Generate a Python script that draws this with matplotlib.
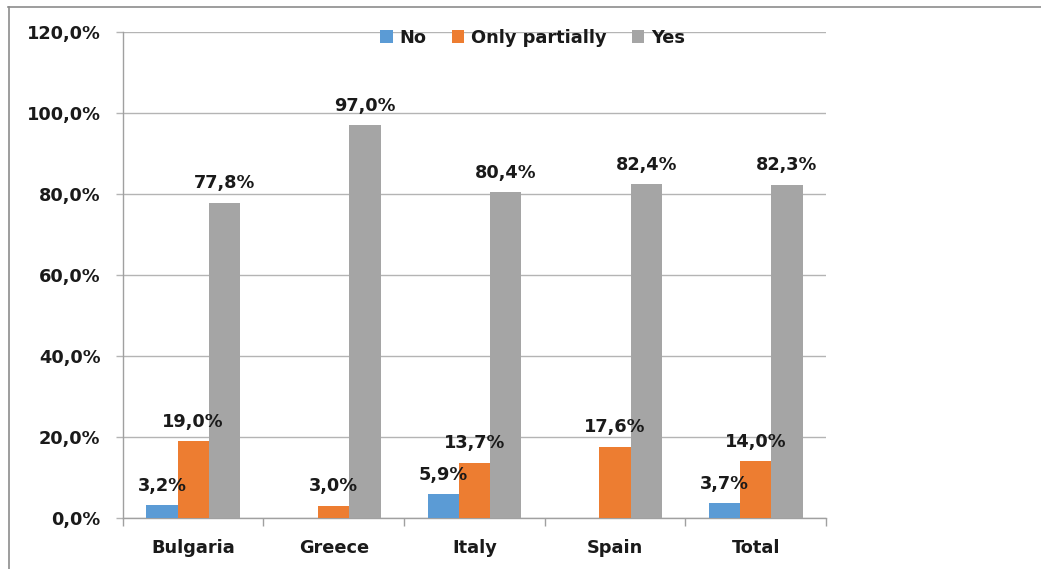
import numpy as np
import matplotlib.pyplot as plt
from matplotlib.lines import Line2D

categories = ["Bulgaria", "Greece", "Italy", "Spain", "Total"]
series_names = ["No", "Only partially", "Yes"]
no_vals = [3.2, 0.0, 5.9, 0.0, 3.7]
partial_vals = [19.0, 3.0, 13.7, 17.6, 14.0]
yes_vals = [77.8, 97.0, 80.4, 82.4, 82.3]
colors = ["#5B9BD5", "#ED7D31", "#A5A5A5"]

plt.rcParams['font.family'] = ['DejaVu Sans']
FS = 12.8

fig = plt.figure(figsize=(10.41, 5.69), dpi=100)
ax = fig.add_axes([0.118, 0.0896, 0.6755, 0.8542])

x = np.arange(len(categories))
bw = 1 / 4.5
for i, (name, vals, c) in enumerate(zip(series_names, [no_vals, partial_vals, yes_vals], colors)):
    pos = x + (i - 1) * bw
    ax.bar(pos, vals, width=bw, color=c, label=name, zorder=3)
    for p, v in zip(pos, vals):
        if v > 0:
            ax.annotate(f"{v:.1f}%".replace(".", ","), (p, v), xytext=(0, 7.5),
                        textcoords="offset points", ha="center", va="bottom",
                        fontsize=FS, fontweight="bold", color="#1a1a1a", zorder=10)

ax.set_xlim(-0.5, len(categories) - 0.5)
ax.set_ylim(0, 120)
ax.set_yticks(np.arange(0, 121, 20))
ax.set_yticklabels([f"{t:.1f}%".replace(".", ",") for t in np.arange(0, 121, 20)])
ax.yaxis.grid(True, color="#B4B4B4", linewidth=1.0, zorder=0)

# category labels in the middle, tick marks on the boundaries
ax.set_xticks(x)
ax.set_xticklabels(categories)
ax.set_xticks(np.arange(-0.5, len(categories), 1), minor=True)
ax.tick_params(axis="x", which="major", length=0, pad=15)
ax.tick_params(axis="x", which="minor", length=6, color="#A0A0A0", width=1)
ax.tick_params(axis="y", length=5, color="#B4B4B4", width=1, pad=11)
for lab in ax.get_xticklabels() + ax.get_yticklabels():
    lab.set_fontsize(FS)
    lab.set_fontweight("bold")
    lab.set_color("#1a1a1a")

for s in ["top", "right"]:
    ax.spines[s].set_visible(False)
for s in ["left", "bottom"]:
    ax.spines[s].set_color("#A0A0A0")
    ax.spines[s].set_linewidth(1)

leg = ax.legend(loc="upper center", bbox_to_anchor=(0.583, 1.04), ncol=3, frameon=False,
                handlelength=0.7, handleheight=0.7, handletextpad=0.4, columnspacing=1.4,
                prop={"weight": "bold", "size": FS})
for t in leg.get_texts():
    t.set_color("#1a1a1a")

# outer frame lines
fig.add_artist(Line2D([8 / 1041, 1], [1 - 7 / 569, 1 - 7 / 569], color="#8C8C8C", lw=1.2,
                      transform=fig.transFigure))
fig.add_artist(Line2D([9 / 1041, 9 / 1041], [0, 1 - 7 / 569], color="#8C8C8C", lw=1.2,
                      transform=fig.transFigure))

fig.savefig("out.png", dpi=100)
